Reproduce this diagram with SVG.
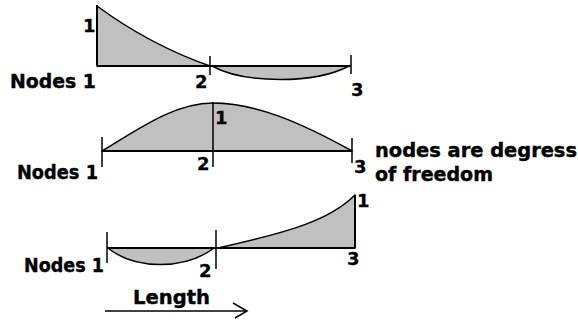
<svg xmlns="http://www.w3.org/2000/svg" width="578" height="329" viewBox="0 0 578 329">
<style>
.bg{fill:#ffffff}
.area{fill:#c0c0c0;stroke:#000;stroke-width:1.5;stroke-linejoin:round}
.ln{stroke:#000;stroke-width:2;fill:none}
.tk{stroke:#000;stroke-width:1.5;fill:none}
.t{font-family:"DejaVu Sans",sans-serif;font-weight:bold;font-size:19px;fill:#000;stroke:#000;stroke-width:0.4}
.d{font-family:"DejaVu Sans",sans-serif;font-weight:bold;font-size:18px;fill:#000;stroke:#000;stroke-width:0.3}
</style>
<rect class="bg" x="0" y="0" width="578" height="329"/>
<g id="panel-top">
<path class="area" d="M97,66 L97,6 Q150,45 210,66 Z"/>
<path class="area" d="M212,66 C245,84 315,84 349,66 Z"/>
<line class="ln" x1="97" y1="5" x2="97" y2="66"/>
<line class="ln" x1="97" y1="66" x2="351" y2="66"/>
<line class="tk" x1="210" y1="56" x2="210" y2="75"/>
<line class="tk" x1="351" y1="55" x2="351" y2="74"/>
<text class="d" x="83" y="32">1</text>
<text class="t" x="10" y="88" textLength="86" lengthAdjust="spacingAndGlyphs">Nodes 1</text>
<text class="d" x="195" y="88">2</text>
<text class="d" x="351" y="96">3</text>
</g>
<g id="panel-middle">
<path class="area" d="M102,151 C140,128 175,103 213,103 C255,103 300,122 352,151 Z"/>
<line class="ln" x1="102" y1="151" x2="352" y2="151"/>
<line class="tk" x1="102" y1="137" x2="102" y2="167"/>
<line class="tk" x1="213" y1="102" x2="213" y2="167"/>
<line class="tk" x1="352" y1="138" x2="352" y2="163"/>
<text class="d" x="215" y="124">1</text>
<text class="t" x="17" y="179" textLength="81" lengthAdjust="spacingAndGlyphs">Nodes 1</text>
<text class="d" x="197" y="170">2</text>
<text class="d" x="354" y="173">3</text>
</g>
<g id="panel-bottom">
<path class="area" d="M108,248 C135,270 185,270 214,248 Z"/>
<path class="area" d="M218,248 C290,232 330,220 355,195 L355,248 Z"/>
<line class="ln" x1="107" y1="248" x2="355" y2="248"/>
<line class="ln" x1="355" y1="195" x2="355" y2="248"/>
<line class="tk" x1="107" y1="232" x2="107" y2="263"/>
<line class="tk" x1="216" y1="230" x2="216" y2="269"/>
<text class="d" x="357" y="207">1</text>
<text class="t" x="24" y="272" textLength="80" lengthAdjust="spacingAndGlyphs">Nodes 1</text>
<text class="d" x="199" y="277">2</text>
<text class="d" x="347" y="265">3</text>
</g>
<g id="note">
<text class="t" x="375" y="157" textLength="202" lengthAdjust="spacingAndGlyphs">nodes are degress</text>
<text class="t" x="375" y="181" textLength="118" lengthAdjust="spacingAndGlyphs">of freedom</text>
</g>
<g id="connectors">
<line class="tk" x1="105" y1="311" x2="247" y2="311"/>
<polyline class="tk" points="233,303 247,311 235,318"/>
<text class="t" x="133" y="304" textLength="77" lengthAdjust="spacingAndGlyphs">Length</text>
</g>
</svg>
